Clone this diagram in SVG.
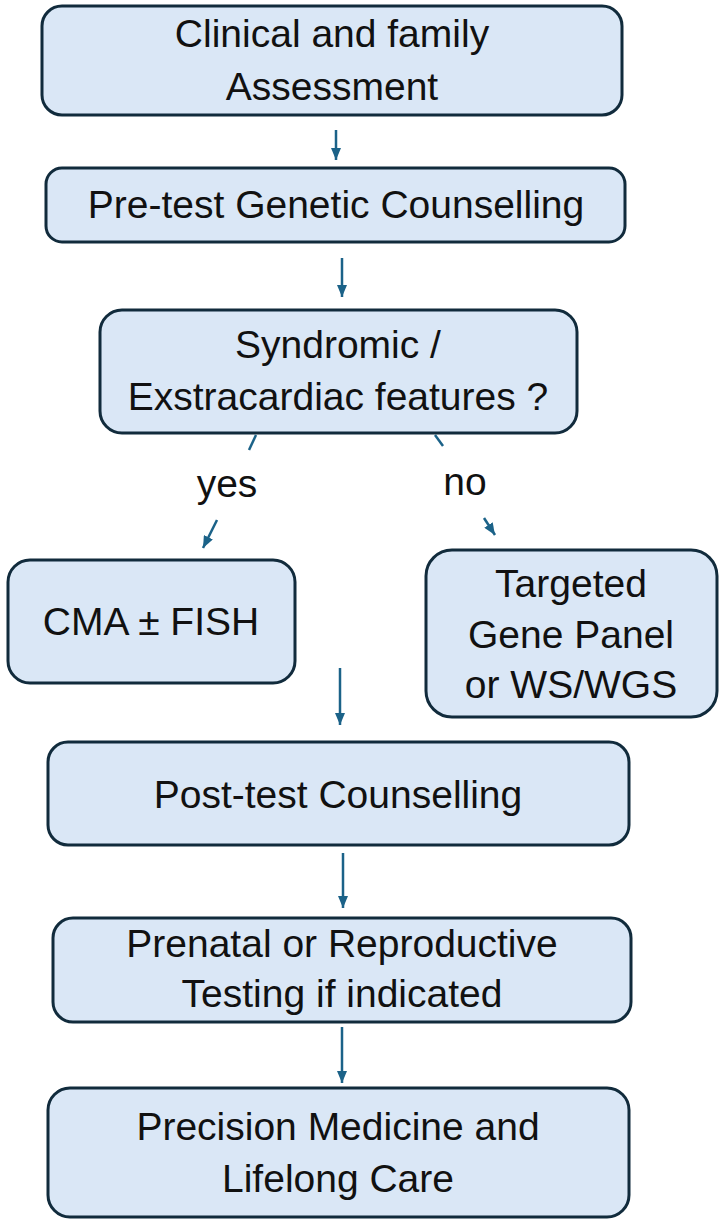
<svg xmlns="http://www.w3.org/2000/svg" width="722" height="1230" viewBox="0 0 722 1230">
<style>
.box{fill:#DAE7F6;stroke:#112B3C;stroke-width:3}
.t{font-family:"Liberation Sans",Arial,sans-serif;font-size:39px;fill:#111;text-anchor:middle}
.c{stroke:#1B6288;stroke-width:2.5;fill:none}
</style>
<defs>
<marker id="ah" markerUnits="userSpaceOnUse" viewBox="0 0 12 10" markerWidth="12" markerHeight="10" refX="12" refY="5" orient="auto">
<path d="M0,0 L12,5 L0,10 z" fill="#1B6288"/>
</marker>
</defs>
<rect width="722" height="1230" fill="#fff"/>
<g id="connectors">
<line class="c" x1="336" y1="130" x2="336" y2="160" marker-end="url(#ah)"/>
<line class="c" x1="342" y1="258" x2="342" y2="297" marker-end="url(#ah)"/>
<line class="c" x1="256" y1="435" x2="249" y2="450"/>
<line class="c" x1="435" y1="435" x2="443" y2="446"/>
<line class="c" x1="217" y1="520" x2="203" y2="548" marker-end="url(#ah)"/>
<line class="c" x1="484" y1="518" x2="495" y2="535" marker-end="url(#ah)"/>
<line class="c" x1="340" y1="668" x2="340" y2="725" marker-end="url(#ah)"/>
<line class="c" x1="343" y1="853" x2="343" y2="908" marker-end="url(#ah)"/>
<line class="c" x1="342" y1="1027" x2="342" y2="1083" marker-end="url(#ah)"/>
<text class="t" x="227" y="497">yes</text>
<text class="t" x="465" y="495">no</text>
</g>
<g id="clinical">
<rect class="box" x="42" y="6" width="580" height="109" rx="20"/>
<text class="t" x="332" y="47">Clinical and family</text>
<text class="t" x="332" y="100">Assessment</text>
</g>
<g id="pretest">
<rect class="box" x="46" y="168" width="579" height="74" rx="16"/>
<text class="t" x="336" y="218">Pre-test Genetic Counselling</text>
</g>
<g id="syndromic">
<rect class="box" x="100" y="310" width="477" height="123" rx="22"/>
<text class="t" x="338" y="358">Syndromic /</text>
<text class="t" x="338" y="410">Exstracardiac features ?</text>
</g>
<g id="cma">
<rect class="box" x="8" y="560" width="287" height="123" rx="22"/>
<text class="t" x="151" y="635">CMA ± FISH</text>
</g>
<g id="targeted">
<rect class="box" x="426" y="550" width="291" height="167" rx="26"/>
<text class="t" x="571" y="597">Targeted</text>
<text class="t" x="571" y="648">Gene Panel</text>
<text class="t" x="571" y="698">or WS/WGS</text>
</g>
<g id="posttest">
<rect class="box" x="48" y="742" width="581" height="103" rx="20"/>
<text class="t" x="338" y="808">Post-test Counselling</text>
</g>
<g id="prenatal">
<rect class="box" x="53" y="918" width="578" height="104" rx="20"/>
<text class="t" x="342" y="957">Prenatal or Reproductive</text>
<text class="t" x="342" y="1007">Testing if indicated</text>
</g>
<g id="precision">
<rect class="box" x="48" y="1088" width="581" height="129" rx="22"/>
<text class="t" x="338" y="1140">Precision Medicine and</text>
<text class="t" x="338" y="1192">Lifelong Care</text>
</g>
</svg>
